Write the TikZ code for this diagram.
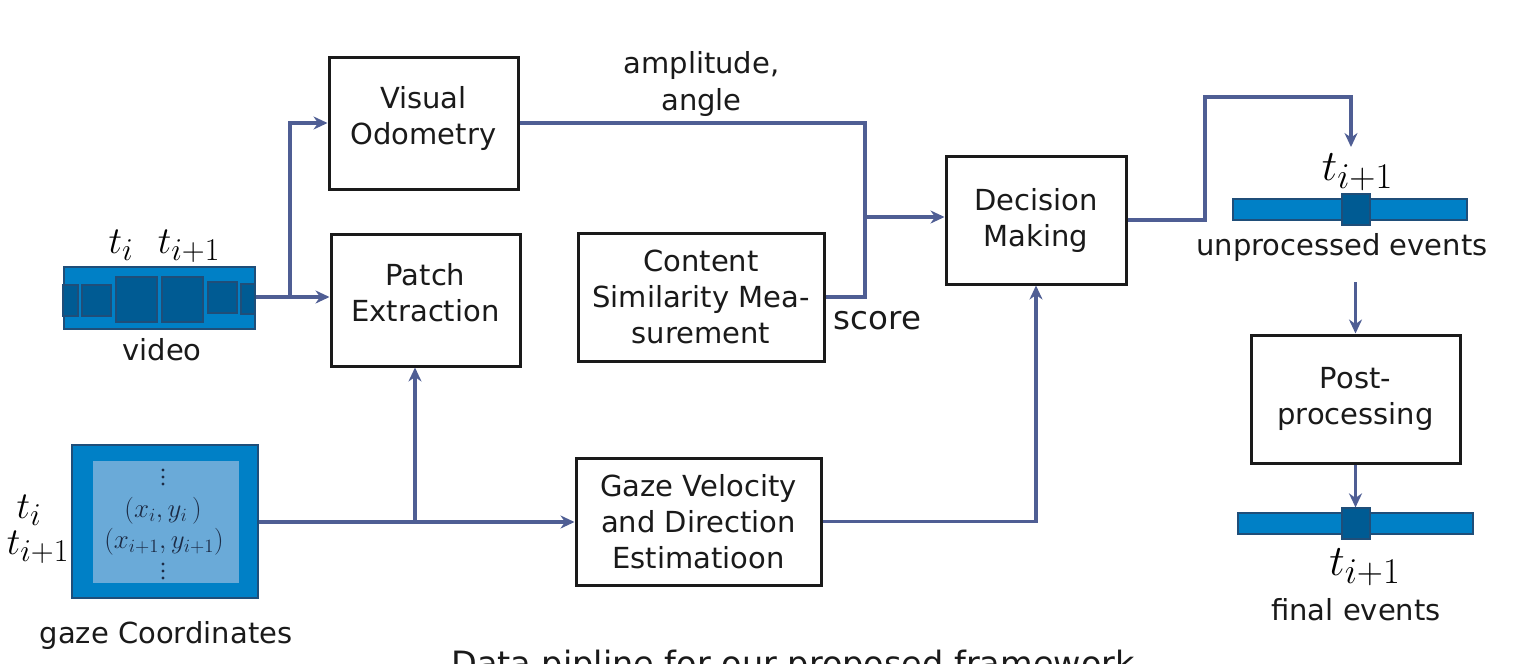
\documentclass[tikz,border=0pt]{standalone}
\usepackage{fontspec}
\setmainfont{DejaVu Sans}
\usetikzlibrary{arrows.meta}
\definecolor{arr}{HTML}{4F5E94}
\definecolor{barblue}{HTML}{0080C6}
\definecolor{darkblue}{HTML}{005B93}
\definecolor{edgeblue}{HTML}{1F4E79}
\definecolor{lightblue}{HTML}{6AAAD8}
\definecolor{ink}{HTML}{1A1A1A}
\definecolor{navy}{HTML}{1C2B45}
\begin{document}
\begin{tikzpicture}[x=1pt,y=-1pt,
  box/.style={draw=ink,line width=3pt,fill=white,align=center,text=ink,
    font=\fontsize{29}{36}\selectfont,inner sep=0pt},
  boxtext/.style={align=center,text=ink,font=\fontsize{29}{36}\selectfont,inner sep=0pt},
  conn/.style={draw=arr,line width=3.5pt},
  arrow/.style={conn,-{Stealth[length=14pt,width=13pt]}},
  lbl/.style={font=\fontsize{29}{36}\selectfont,text=ink,inner sep=0pt,anchor=base,align=center},
  mth/.style={font=\Huge,scale=1.53,inner sep=0pt,anchor=base},
  bigmth/.style={font=\Huge,scale=1.75,inner sep=0pt,anchor=base},
  gmth/.style={font=\huge,scale=1.3,inner sep=0pt,anchor=base,text=navy},
  barbox/.style={draw=edgeblue,line width=1.2pt,fill=barblue,inner sep=0pt},
  frame/.style={draw=edgeblue,line width=1.2pt,fill=darkblue,inner sep=0pt},
  dot/.style={fill=navy},
]
\useasboundingbox (0,0) rectangle (1521,664);
\clip (0,0) rectangle (1521,664);

% process boxes
\node[box,minimum width=189pt,minimum height=132pt,
  label={[boxtext,yshift=5pt]center:Visual\\Odometry}] (vo) at (423.5,123) {};
\node[box,minimum width=189pt,minimum height=132pt,
  label={[boxtext,yshift=7pt]center:Patch\\Extraction}] (pe) at (425.5,300) {};
\node[box,minimum width=246pt,minimum height=128pt] (cs) at (701,297) {Content\\Similarity Mea-\\surement};
\node[box,minimum width=180pt,minimum height=128pt] (dm) at (1036,220) {Decision\\Making};
\node[box,minimum width=245pt,minimum height=127pt] (gv) at (698.5,521.5) {Gaze Velocity\\and Direction\\Estimatioon};
\node[box,minimum width=209pt,minimum height=128pt] (pp) at (1355.5,399) {Post-\\processing};

% video strip
\node[barbox,minimum width=191pt,minimum height=62pt] (video) at (159.5,298) {};
\node[frame,minimum width=15pt,minimum height=31pt] (f1) at (70.5,300.5) {};
\node[frame,minimum width=29pt,minimum height=31pt] (f2) at (96.5,300.5) {};
\node[frame,minimum width=41pt,minimum height=45pt] (f3) at (136.5,299.5) {};
\node[frame,minimum width=41pt,minimum height=45pt] (f4) at (182.5,299.5) {};
\node[frame,minimum width=29pt,minimum height=31pt] (f5) at (222.5,297.5) {};
\node[frame,minimum width=14pt,minimum height=30pt] (f6) at (248,299) {};
\node[mth] (vti) at (121,253) {$t_i$};
\node[mth] (vti1) at (189,253) {$t_{i+1}$};
\node[lbl] (vlab) at (162,360) {video};

% gaze coordinates
\node[draw=edgeblue,line width=1.5pt,fill=barblue,minimum width=186pt,minimum height=153pt,inner sep=0pt] (gz) at (165,521.5) {};
\node[fill=lightblue,minimum width=146pt,minimum height=122pt,inner sep=0pt] (gzin) at (166,522) {};
\foreach \yy in {470,477,484,564,571,578} \fill[dot] (163,\yy) circle (1.6pt);
\node[gmth] (xy1) at (163,517) {$(x_i,y_i\,)$};
\node[gmth] (xy2) at (164,548) {$(x_{i+1},y_{i+1})$};
\node[mth] (gti) at (29,518) {$t_i$};
\node[mth] (gti1) at (38,554) {$t_{i+1}$};
\node[lbl] (glab) at (166,643) {gaze Coordinates};

% labels
\node[lbl] (amp) at (701.5,73) {amplitude,};
\node[lbl] (ang) at (701.5,110) {angle};
\node[lbl,font=\fontsize{32.5}{36}\selectfont] (score) at (877.5,329) {score};

% unprocessed events
\node[barbox,minimum width=234pt,minimum height=21pt] (ub) at (1350,209.5) {};
\node[frame,minimum width=28pt,minimum height=31pt] (us) at (1356,209.5) {};
\node[bigmth] (uti) at (1357.5,180) {$t_{i+1}$};
\node[lbl] (ulab) at (1342,255) {unprocessed events};

% final events
\node[barbox,minimum width=235pt,minimum height=21pt] (fb) at (1355.5,523.5) {};
\node[frame,minimum width=28pt,minimum height=31pt] (fs) at (1356,523.5) {};
\node[bigmth] (fti) at (1365,575) {$t_{i+1}$};
\node[lbl] (flab) at (1356,620) {final events};

% caption (cut off at bottom)
\node[lbl,font=\fontsize{33.5}{38}\selectfont] (cap) at (793,675) {Data pipline for our proposed framework};

% connectors
\coordinate (j0) at (290,297);
\draw[arrow] (video.east |- j0) -- (j0 -| pe.west);
\draw[arrow] (j0) |- (vo.west);

\coordinate (j2) at (415,522);
\draw[arrow] (gz.east |- j2) -- (j2 -| gv.west);
\draw[arrow] (j2) -- (j2 |- pe.south);

\coordinate (j1) at (865,217);
\draw[conn] (vo.east) -| (j1);
\draw[conn] (cs.east) -| (j1);
\draw[arrow] (j1) -- (j1 -| dm.west);

\draw[arrow] (gv.east) -| (dm.south);

\coordinate (k1) at (1205,97);
\coordinate (k2) at (1351,147);
\draw[arrow] (dm.east) -| (k1) -| (k2);

\coordinate (k3) at (1355.5,282);
\draw[arrow] (k3) -- (pp.north);
\draw[arrow] (pp.south) -- (pp.south |- fs.north);
\end{tikzpicture}
\end{document}
